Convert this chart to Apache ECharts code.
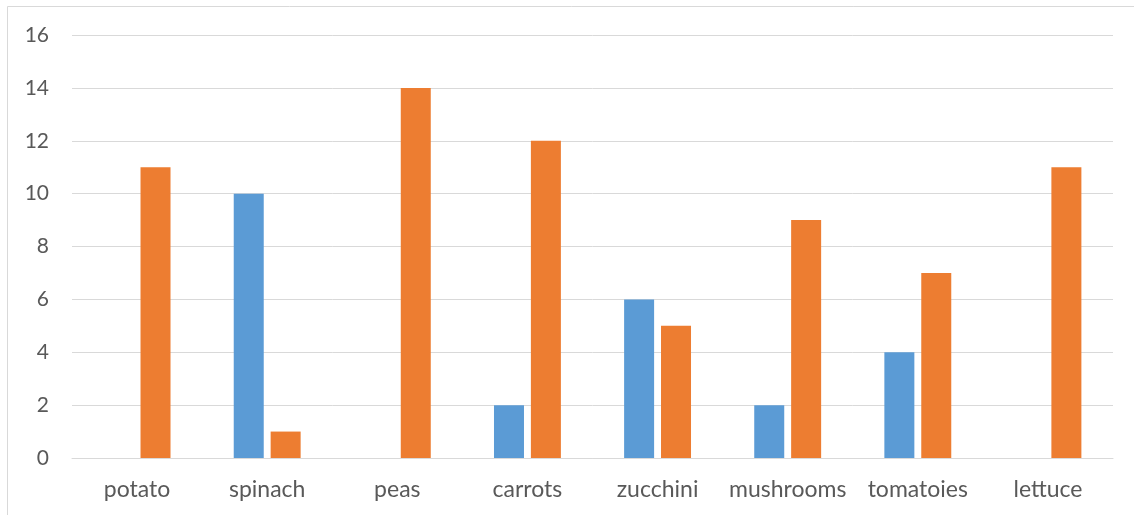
<!DOCTYPE html>
<html>
<head>
<meta charset="utf-8">
<script src="https://cdn.jsdelivr.net/npm/echarts@6/dist/echarts.min.js"></script>
<style>
  html, body { margin: 0; padding: 0; background: #fff; }
  #chart { width: 1134px; height: 515px; }
</style>
</head>
<body>
<div id="chart"></div>
<script>
// Vegetable counts, two series
const categories = ['potato', 'spinach', 'peas', 'carrots', 'zucchini', 'mushrooms', 'tomatoies', 'lettuce'];
const seriesBlue = [0, 10, 0, 2, 6, 2, 4, 0];
const seriesOrange = [11, 1, 14, 12, 5, 9, 7, 11];
const yTicks = { min: 0, max: 16, interval: 2 };

const textColor = '#595959';
const gridColor = '#d9d9d9';
const fontFamily = 'Lato, "Liberation Sans", sans-serif';

const chart = echarts.init(document.getElementById('chart'), null, { renderer: 'canvas' });
chart.setOption({
  animation: false,
  backgroundColor: '#ffffff',
  graphic: [{
    type: 'rect',
    shape: { x: 7.5, y: 6.5, width: 1140, height: 540 },
    style: { fill: 'none', stroke: gridColor, lineWidth: 1 },
    silent: true
  }],
  grid: { left: 72, right: 21, top: 35, bottom: 57, containLabel: false },
  xAxis: {
    type: 'category',
    data: categories,
    axisTick: { show: false },
    axisLine: { show: true, lineStyle: { color: gridColor, width: 1 } },
    axisLabel: { color: textColor, fontSize: 23, fontFamily, margin: 20, interval: 0 }
  },
  yAxis: {
    type: 'value',
    min: yTicks.min,
    max: yTicks.max,
    interval: yTicks.interval,
    axisLine: { show: false },
    axisTick: { show: false },
    splitLine: { lineStyle: { color: gridColor, width: 1 } },
    axisLabel: { color: textColor, fontSize: 21, fontFamily, margin: 23 }
  },
  series: [
    {
      type: 'bar',
      data: seriesBlue,
      barWidth: 30,
      barGap: '23%',
      itemStyle: { color: '#5b9bd5' }
    },
    {
      type: 'bar',
      data: seriesOrange,
      barWidth: 30,
      barGap: '23%',
      itemStyle: { color: '#ed7d31' }
    }
  ]
});
</script>
</body>
</html>
